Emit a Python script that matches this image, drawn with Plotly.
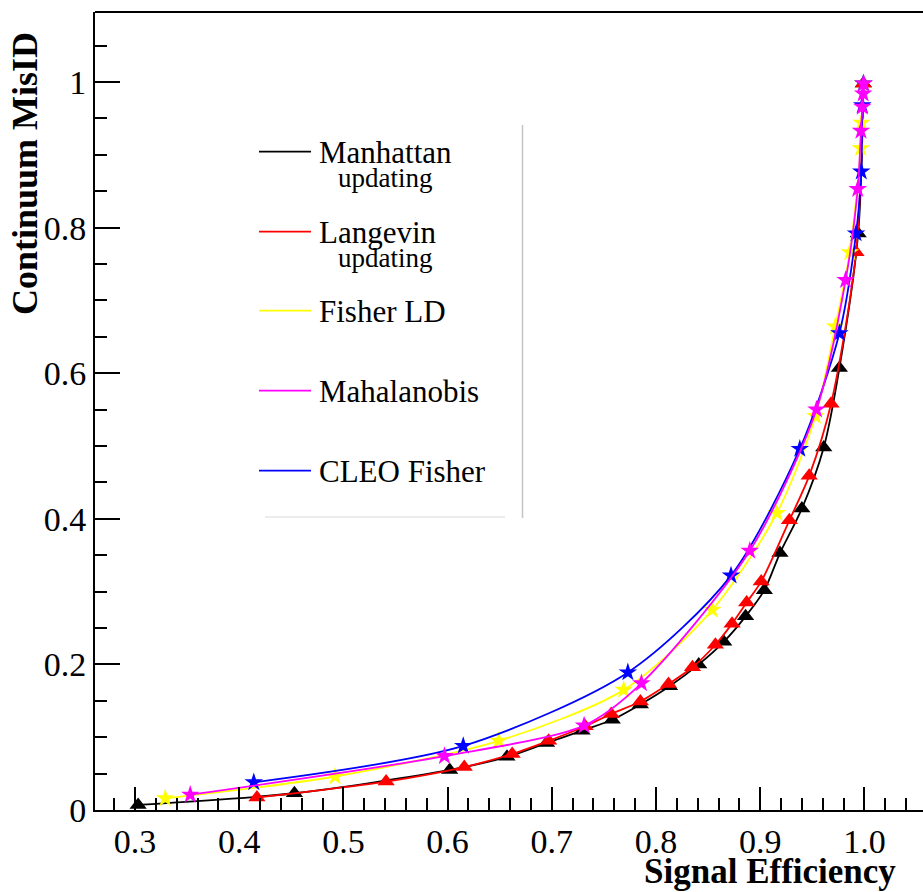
import plotly.graph_objects as go

# Signal efficiency vs. continuum mis-identification for five classifiers
manhattan_eff = [0.303, 0.453, 0.602, 0.657, 0.695, 0.729, 0.758, 0.785, 0.813, 0.841,
                 0.865, 0.886, 0.904, 0.919, 0.940, 0.961, 0.976, 0.994, 0.999]
manhattan_mis = [0.007, 0.023, 0.055, 0.073, 0.092, 0.109, 0.124, 0.145, 0.170, 0.200,
                 0.231, 0.266, 0.302, 0.353, 0.414, 0.498, 0.607, 0.792, 0.998]

langevin_eff = [0.417, 0.541, 0.616, 0.662, 0.697, 0.732, 0.757, 0.785, 0.812, 0.835,
                0.857, 0.873, 0.887, 0.901, 0.928, 0.947, 0.968, 0.992, 0.999]
langevin_mis = [0.017, 0.039, 0.059, 0.077, 0.095, 0.115, 0.132, 0.149, 0.173, 0.196,
                0.227, 0.256, 0.285, 0.314, 0.398, 0.459, 0.558, 0.766, 0.998]

fisher_eff = [0.329, 0.492, 0.649, 0.769, 0.854, 0.916, 0.953, 0.972, 0.986, 0.9965, 0.9972, 0.999]
fisher_mis = [0.016, 0.046, 0.095, 0.165, 0.275, 0.408, 0.541, 0.664, 0.766, 0.909, 0.944, 0.998]

mahal_eff = [0.353, 0.597, 0.731, 0.786, 0.890, 0.954, 0.982, 0.9936, 0.9967, 0.998, 0.9988, 0.9993]
mahal_mis = [0.021, 0.074, 0.116, 0.174, 0.356, 0.550, 0.728, 0.853, 0.933, 0.966, 0.984, 0.998]

cleo_eff = [0.414, 0.615, 0.773, 0.872, 0.938, 0.976, 0.992, 0.997, 0.998, 0.999]
cleo_mis = [0.038, 0.088, 0.189, 0.322, 0.496, 0.655, 0.792, 0.877, 0.968, 0.998]

# drawing order (last on top) and style per classifier
series = [
    ("Manhattan updating", manhattan_eff, manhattan_mis, "#000000", "triangle-up", 15),
    ("Langevin updating", langevin_eff, langevin_mis, "#ff0000", "triangle-up", 15),
    ("Fisher LD", fisher_eff, fisher_mis, "#ffff00", "star", 14),
    ("CLEO Fisher", cleo_eff, cleo_mis, "#0000ff", "star", 14),
    ("Mahalanobis", mahal_eff, mahal_mis, "#ff00ff", "star", 14),
]

# legend entries: (main label, sub label, colour)
legend_rows = [
    ("Manhattan", "updating", "#000000"),
    ("Langevin", "updating", "#ff0000"),
    ("Fisher LD", None, "#ffff00"),
    ("Mahalanobis", None, "#ff00ff"),
    ("CLEO Fisher", None, "#0000ff"),
]

FONT = "Liberation Serif"
W, H = 923, 892
ML, MR, MT, MB = 95, 0, 12, 82
PW, PH = W - ML - MR, H - MT - MB

fig = go.Figure()
for name, xs, ys, col, sym, sz in series:
    fig.add_trace(go.Scatter(
        x=xs, y=ys, name=name, mode="lines+markers",
        line=dict(color=col, width=1.8, shape="spline", smoothing=0.8),
        marker=dict(symbol=sym, size=sz, color=col, line=dict(width=0)),
        showlegend=False,
    ))


def px_x(p):
    return (p - ML) / PW


def px_y(p):
    return (H - MB - p) / PH


shapes = [
    # upper frame line
    dict(type="line", xref="paper", yref="paper", x0=0, x1=1, y0=1, y1=1,
         line=dict(color="black", width=2)),
    # legend box edges
    dict(type="line", xref="paper", yref="paper", x0=px_x(522.5), x1=px_x(522.5),
         y0=px_y(125), y1=px_y(518), line=dict(color="#c4c4c4", width=1.5)),
    dict(type="line", xref="paper", yref="paper", x0=px_x(265), x1=px_x(505),
         y0=px_y(517), y1=px_y(517), line=dict(color="#e6e6e6", width=1.5)),
]
annotations = []
row_y = [151.7, 231.7, 310.7, 390.7, 470.7]
for (main, sub, col), ry in zip(legend_rows, row_y):
    shapes.append(dict(type="line", xref="paper", yref="paper",
                       x0=px_x(259), x1=px_x(311), y0=px_y(ry), y1=px_y(ry),
                       line=dict(color=col, width=1.8)))
    annotations.append(dict(text=main, xref="paper", yref="paper", x=px_x(317),
                            y=px_y(ry + 1), xanchor="left", yanchor="middle",
                            showarrow=False, font=dict(family=FONT, size=31, color="black")))
    if sub:
        annotations.append(dict(text=sub, xref="paper", yref="paper", x=px_x(336),
                                y=px_y(ry + 26), xanchor="left", yanchor="middle",
                                showarrow=False, font=dict(family=FONT, size=27, color="black")))

# axis titles
annotations.append(dict(text="<b>Signal Efficiency</b>", xref="paper", yref="paper",
                        x=px_x(898), y=px_y(871), xanchor="right", yanchor="middle",
                        showarrow=False, font=dict(family=FONT, size=35, color="black")))
annotations.append(dict(text="<b>Continuum MisID</b>", xref="paper", yref="paper",
                        x=px_x(25), y=px_y(174), xanchor="center", yanchor="middle",
                        textangle=-90, showarrow=False,
                        font=dict(family=FONT, size=36, color="black")))

x0 = 0.3 - (135 - ML) / 1042.0
x1 = 0.3 + (W - 135) / 1042.0
fig.update_layout(
    width=W, height=H,
    margin=dict(l=ML, r=MR, t=MT, b=MB),
    paper_bgcolor="white", plot_bgcolor="white",
    font=dict(family=FONT, color="black"),
    shapes=shapes, annotations=annotations,
    xaxis=dict(range=[x0, x1], tick0=0.3, dtick=0.1, tickformat=".1f",
               ticks="inside", ticklen=23, tickwidth=1.5, tickcolor="black",
               minor=dict(ticks="inside", ticklen=12, tickwidth=1.5, dtick=0.02,
                          tick0=0.3, tickcolor="black", showgrid=False),
               showline=True, linewidth=2, linecolor="black", showgrid=False,
               zeroline=False, tickfont=dict(family=FONT, size=34)),
    yaxis=dict(range=[0, (H - MB - MT) / 728.0], tick0=0, dtick=0.2,
               ticks="inside", ticklen=25, tickwidth=1.5, tickcolor="black",
               minor=dict(ticks="inside", ticklen=12, tickwidth=1.5, dtick=0.05,
                          tick0=0, tickcolor="black", showgrid=False),
               showline=True, linewidth=2, linecolor="black", showgrid=False,
               zeroline=False, tickfont=dict(family=FONT, size=34)),
)

fig.write_html("out.html")
